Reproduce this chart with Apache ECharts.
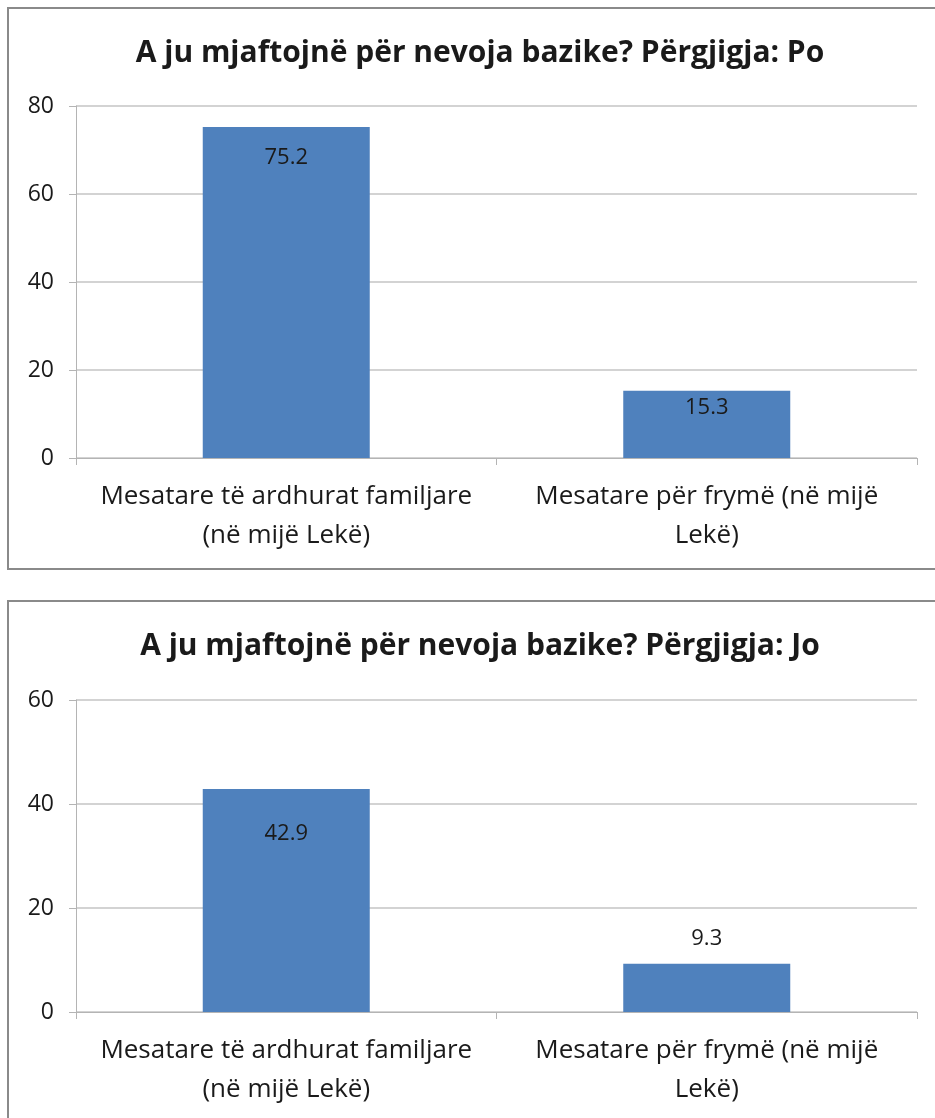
<!DOCTYPE html>
<html>
<head>
<meta charset="utf-8">
<script src="https://cdn.jsdelivr.net/npm/echarts@6/dist/echarts.min.js"></script>
<style>
  html, body { margin: 0; padding: 0; background: #fff; }
  #chart { width: 935px; height: 1118px; }
</style>
</head>
<body>
<div id="chart"></div>
<script>
// data
const categories = ["Mesatare të ardhurat familjare\n(në mijë Lekë)", "Mesatare për frymë (në mijë\nLekë)"];
const titlePo = "A ju mjaftojnë për nevoja bazike? Përgjigja: Po";
const titleJo = "A ju mjaftojnë për nevoja bazike? Përgjigja: Jo";
const valuesPo = [75.2, 15.3];
const valuesJo = [42.9, 9.3];
const ticksPo = { min: 0, max: 80, interval: 20 };
const ticksJo = { min: 0, max: 60, interval: 20 };

const FONT = "'Open Sans', 'Noto Sans', sans-serif";
const BLUE = "#4F81BD";
const TEXT = "#1a1a1a";

const chart = echarts.init(document.getElementById("chart"));

function xAxisFor(gridIndex) {
  return {
    type: "category",
    gridIndex: gridIndex,
    data: categories,
    axisLine: { lineStyle: { color: "#b4b4b4", width: 1 } },
    axisTick: { show: true, length: 7, lineStyle: { color: "#b4b4b4" } },
    axisLabel: {
      color: TEXT, fontFamily: FONT, fontSize: 26, lineHeight: 39,
      margin: 19, interval: 0
    }
  };
}

function yAxisFor(gridIndex, t) {
  return {
    type: "value",
    gridIndex: gridIndex,
    min: t.min, max: t.max, interval: t.interval,
    axisLine: { show: true, lineStyle: { color: "#b4b4b4" } },
    axisTick: { show: true, length: 7, lineStyle: { color: "#b4b4b4" } },
    splitLine: { lineStyle: { color: "#c4c4c4", width: 1.5 } },
    axisLabel: { color: TEXT, fontFamily: FONT, fontSize: 23, margin: 22 }
  };
}

// per-bar label placement (Excel put them at slightly different spots)
function barData(values, labelCfg) {
  return values.map((v, i) => ({ value: v, label: labelCfg[i] }));
}

const titleStyle = { fontFamily: FONT, fontSize: 30, fontWeight: "bold", color: TEXT };
const labelStyle = { show: true, color: TEXT, fontFamily: FONT, fontSize: 22 };

const option = {
  animation: false,
  backgroundColor: "#fff",
  graphic: [
    { type: "rect", shape: { x: 8, y: 8, width: 940, height: 561 },
      style: { fill: "none", stroke: "#8a8a8a", lineWidth: 2 } },
    { type: "rect", shape: { x: 8, y: 601, width: 940, height: 540 },
      style: { fill: "none", stroke: "#8a8a8a", lineWidth: 2 } }
  ],
  title: [
    { text: titlePo, left: 475, top: 33, textAlign: "center", textStyle: titleStyle },
    { text: titleJo, left: 475, top: 626, textAlign: "center", textStyle: titleStyle }
  ],
  grid: [
    { left: 76, right: 18, top: 106, height: 352 },
    { left: 76, right: 18, top: 700, height: 312 }
  ],
  xAxis: [xAxisFor(0), xAxisFor(1)],
  yAxis: [yAxisFor(0, ticksPo), yAxisFor(1, ticksJo)],
  series: [
    {
      type: "bar", xAxisIndex: 0, yAxisIndex: 0, barWidth: 167,
      itemStyle: { color: BLUE },
      label: labelStyle,
      data: barData(valuesPo, [
        { position: "insideTop", distance: 20 },
        { position: "insideTop", distance: 6 }
      ])
    },
    {
      type: "bar", xAxisIndex: 1, yAxisIndex: 1, barWidth: 167,
      itemStyle: { color: BLUE },
      label: labelStyle,
      data: barData(valuesJo, [
        { position: "insideTop", distance: 34 },
        { position: "top", distance: 14 }
      ])
    }
  ]
};

chart.setOption(option);
</script>
</body>
</html>
